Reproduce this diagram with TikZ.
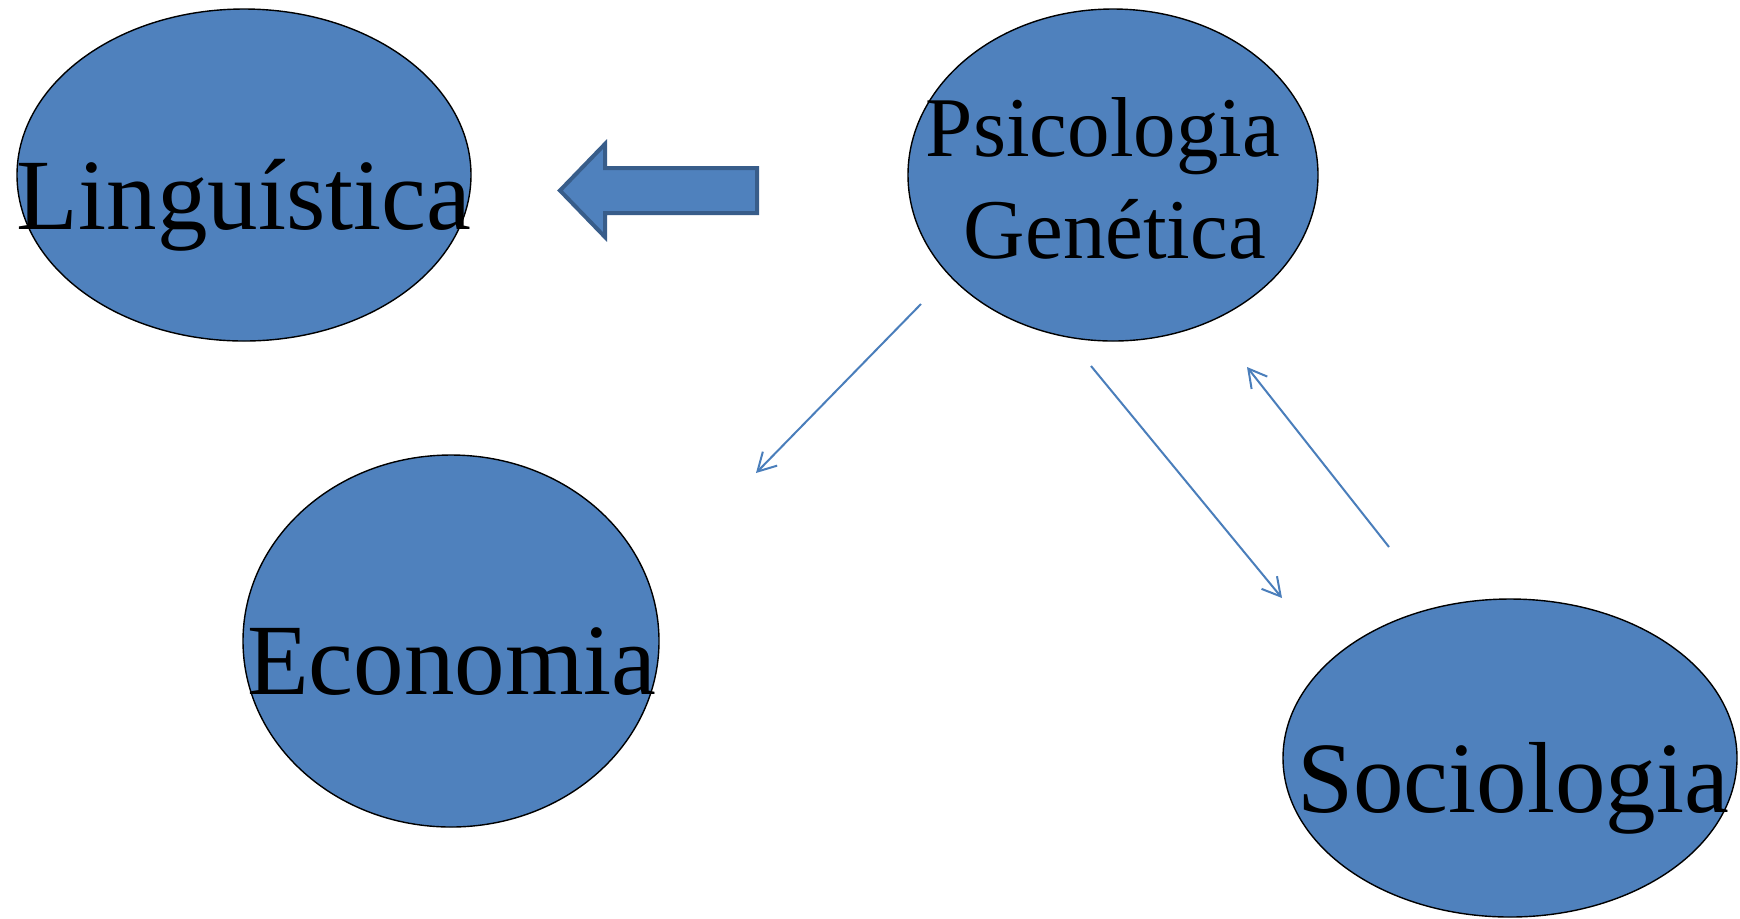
\documentclass[tikz,border=0pt]{standalone}
\usepackage{fontspec}
\setmainfont{Liberation Serif}
\usetikzlibrary{arrows.meta,shapes.geometric}
\definecolor{bubble}{HTML}{4F81BD}
\definecolor{arrowline}{HTML}{385D8A}
\definecolor{conn}{HTML}{4A7EBB}
\tikzset{
  bubble/.style={ellipse, draw=black, line width=0.7pt, fill=bubble, inner sep=0pt},
  bigtext/.style={anchor=base, inner sep=0pt, font=\fontsize{50.5}{60}\selectfont},
  midtext/.style={anchor=base, inner sep=0pt, font=\fontsize{42.5}{51}\selectfont},
  conn/.style={draw=conn, line width=1pt, -{Straight Barb[length=9pt,width=10pt,line width=1pt]}},
  blockarrow/.style={fill=bubble, draw=arrowline, line width=2pt, line join=miter}
}
\begin{document}
\begin{tikzpicture}[x=0.5pt,y=-0.5pt]
\useasboundingbox (0,0) rectangle (1740,918);
\fill[white] (0,0) rectangle (1740,918);
% ellipses
\node[bubble, minimum width=227pt, minimum height=166pt] (ling) at (244,175) {};
\node[bubble, minimum width=205pt, minimum height=166pt] (psi) at (1113,175) {};
\node[bubble, minimum width=208pt, minimum height=186pt] (eco) at (451,641) {};
\node[bubble, minimum width=227pt, minimum height=159pt] (soc) at (1510,758) {};
% texts
\node[bigtext] (lingt) at (244,229) {Linguística};
\node[midtext] (psit1) at (1103,156) {Psicologia};
\node[midtext] (psit2) at (1115,258) {Genética};
\node[bigtext] (ecot) at (452,694) {Economia};
\node[bigtext] (soct) at (1513,812) {Sociologia};
% block arrow
\draw[blockarrow] (560,190.5) -- (605,144) -- (605,168) -- (757,168) -- (757,213) -- (605,213) -- (605,237) -- cycle;
% connectors
\coordinate (a1s) at (921,304);
\coordinate (a1e) at (756,473);
\coordinate (a2s) at (1091,366);
\coordinate (a2e) at (1282,598);
\coordinate (a3s) at (1389,547);
\coordinate (a3e) at (1247,367);
\draw[conn] (a1s) -- (a1e);
\draw[conn] (a2s) -- (a2e);
\draw[conn] (a3s) -- (a3e);
\end{tikzpicture}
\end{document}
